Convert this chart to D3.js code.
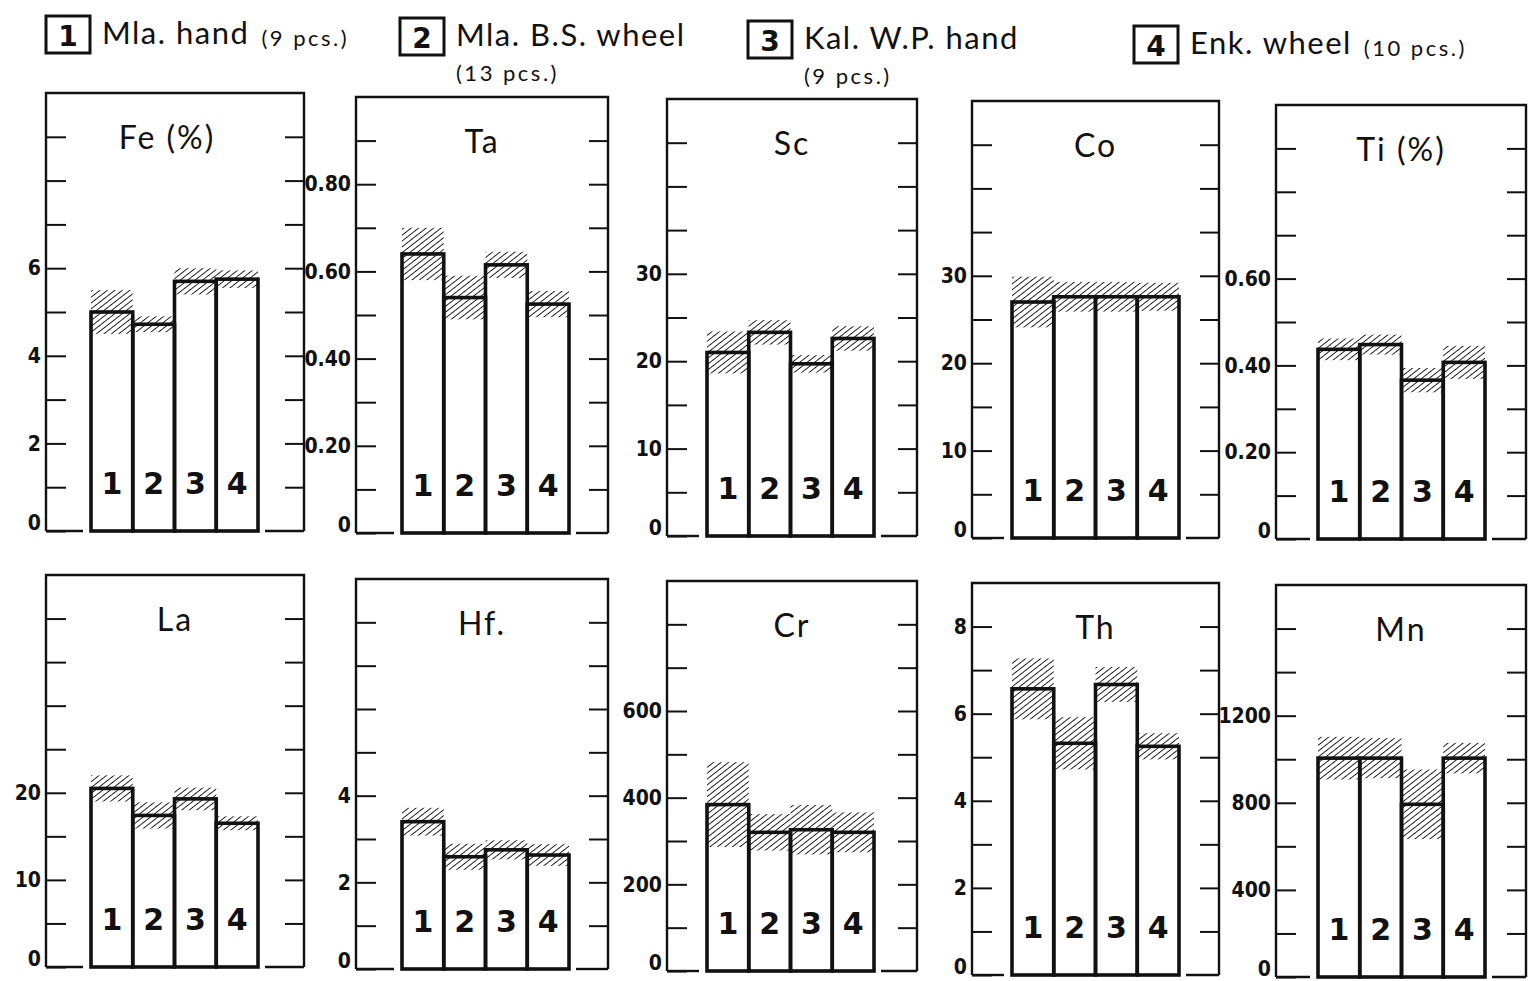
<!DOCTYPE html>
<html>
<head>
<meta charset="utf-8">
<script src="https://cdn.jsdelivr.net/npm/d3@7"></script>
<style>
body { margin: 0; background: #fff; }
svg { display: block; }
.tick text { font-family: "DejaVu Sans Condensed", "Liberation Sans Narrow", sans-serif; font-weight: bold; font-size: 21px; fill: #111; }
.tick line { stroke: #111; stroke-width: 2; }
</style>
</head>
<body>
<svg id="drawing_region"></svg>
<script>
// groups and legend
const groups = [1, 2, 3, 4];
const groupNames = ["Mla. hand", "Mla. B.S. wheel", "Kal. W.P. hand", "Enk. wheel"];
const groupCounts = ["(9 pcs.)", "(13 pcs.)", "(9 pcs.)", "(10 pcs.)"];

// panels
const elements = ["Fe (%)", "Ta", "Sc", "Co", "Ti (%)", "La", "Hf.", "Cr", "Th", "Mn"];

// mean values (bar tops) and spread (hatched band) per element, groups 1-4
const fe = [5.0, 4.72, 5.7, 5.75];      const feSd = [0.5, 0.18, 0.3, 0.2];
const ta = [0.64, 0.54, 0.615, 0.525];  const taSd = [0.06, 0.05, 0.03, 0.03];
const sc = [21.0, 23.3, 19.7, 22.6];    const scSd = [2.4, 1.4, 1.0, 1.4];
const co = [27.0, 27.6, 27.6, 27.6];    const coSd = [2.9, 1.7, 1.7, 1.6];
const ti = [0.437, 0.448, 0.366, 0.407]; const tiSd = [0.025, 0.023, 0.028, 0.038];
const la = [20.5, 17.4, 19.3, 16.5];    const laSd = [1.5, 1.5, 1.3, 0.8];
const hf = [3.4, 2.59, 2.75, 2.63];     const hfSd = [0.32, 0.3, 0.22, 0.25];
const cr = [384, 320, 326, 320];        const crSd = [98, 42, 57, 46];
const th = [6.57, 5.32, 6.67, 5.25];    const thSd = [0.7, 0.6, 0.4, 0.3];
const mn = [1005, 1005, 793, 1005];     const mnSd = [98, 92, 160, 70];

// axes
const axisMax = [10, 1.0, 50, 50, 1.0, 45, 9, 900, 9, 1800];
const tickStep = [1, 0.1, 5, 5, 0.1, 5, 1, 100, 1, 200];
const tickLabels = [
    [0, 2, 4, 6], [0, 0.2, 0.4, 0.6, 0.8], [0, 10, 20, 30], [0, 10, 20, 30], [0, 0.2, 0.4, 0.6],
    [0, 10, 20], [0, 2, 4], [0, 200, 400, 600], [0, 2, 4, 6, 8], [0, 400, 800, 1200]
];
const labelDecimals = [0, 2, 0, 0, 2, 0, 0, 0, 0, 0];

const means = [fe, ta, sc, co, ti, la, hf, cr, th, mn];
const spreads = [feSd, taSd, scSd, coSd, tiSd, laSd, hfSd, crSd, thSd, mnSd];

// layout (the scan is slightly tilted, so rows drift down to the right)
const colLeft = [46, 356, 667, 972, 1276];
const colWidth = [258, 252, 250, 247, 250];
const barOffset = [45, 46, 40, 40, 42];
const barGroupWidth = 167;
const rowTop = [[93, 97, 99, 101, 105], [575, 579, 581, 583, 585]];
const rowBottom = [[531, 533, 536, 538, 539], [967, 969, 971, 975, 977]];
const titleShift = [-8, 0, 0, 0, 0, 0, 0, 0, 0, 0];

const ink = "#111";
const boldFont = "'DejaVu Sans', sans-serif";
const textFont = "Lato, sans-serif";

const svg = d3.select("#drawing_region")
    .attr("width", 1531)
    .attr("height", 981);

svg.append("rect").attr("width", 1531).attr("height", 981).attr("fill", "#fff");

const defs = svg.append("defs");
defs.append("pattern")
    .attr("id", "hatch")
    .attr("patternUnits", "userSpaceOnUse")
    .attr("width", 4.6)
    .attr("height", 4.6)
    .attr("patternTransform", "rotate(52)")
    .append("line")
    .attr("x1", 0).attr("y1", 0).attr("x2", 0).attr("y2", 4.6)
    .attr("stroke", "#000")
    .attr("stroke-width", 1.7);

// legend
const legendX = [46, 400, 748, 1134];
const legendY = [16, 18, 21, 26];
const countInline = [true, false, false, true];

groups.forEach((g, i) => {
    const lg = svg.append("g").attr("transform", `translate(${legendX[i]},${legendY[i]})`);
    lg.append("rect")
        .attr("x", 0).attr("y", 0).attr("width", 44).attr("height", 37)
        .attr("fill", "none").attr("stroke", ink).attr("stroke-width", 3);
    lg.append("text")
        .attr("x", 22).attr("y", 30)
        .attr("text-anchor", "middle")
        .attr("font-family", boldFont).attr("font-weight", "bold").attr("font-size", 28)
        .attr("fill", ink)
        .text(g);
    const name = lg.append("text")
        .attr("x", 56).attr("y", 28)
        .attr("font-family", textFont).attr("font-size", 31)
        .attr("letter-spacing", 1.5)
        .attr("fill", ink)
        .text(groupNames[i]);
    const nameLen = name.node().getComputedTextLength();
    lg.append("text")
        .attr("x", countInline[i] ? 56 + nameLen + 12 : 56)
        .attr("y", countInline[i] ? 30 : 63)
        .attr("font-family", textFont).attr("font-size", 22)
        .attr("letter-spacing", 2.5)
        .attr("fill", ink)
        .text(groupCounts[i]);
});

// panels
elements.forEach((el, k) => {
    const row = Math.floor(k / 5);
    const col = k % 5;
    const x0 = colLeft[col];
    const x1 = x0 + colWidth[col];
    const top = rowTop[row][col];
    const bottom = rowBottom[row][col];

    const yscale = d3.scaleLinear().domain([0, axisMax[k]]).range([bottom, top]);
    const bx0 = x0 + barOffset[col];
    const xscale = d3.scaleBand().domain(groups).range([bx0, bx0 + barGroupWidth]).padding(0);

    const nTicks = Math.round(axisMax[k] / tickStep[k]);
    const tickValues = d3.range(0, nTicks).map(i => +(i * tickStep[k]).toFixed(4));
    const isLabel = v => tickLabels[k].some(t => Math.abs(t - v) < 1e-6);
    const fmt = v => !isLabel(v) ? "" : (v === 0 ? "0" : d3.format(`.${labelDecimals[k]}f`)(v));

    const panel = svg.append("g");

    // hatched spread bands
    panel.selectAll("rect.band")
        .data(groups)
        .join("rect")
        .attr("class", "band")
        .attr("x", g => xscale(g))
        .attr("y", (g, i) => yscale(means[k][i] + spreads[k][i]))
        .attr("width", xscale.bandwidth())
        .attr("height", (g, i) => yscale(means[k][i] - spreads[k][i]) - yscale(means[k][i] + spreads[k][i]))
        .attr("fill", "url(#hatch)");

    // left axis (ticks inward, labels outside)
    const left = panel.append("g")
        .attr("transform", `translate(${x0},0)`)
        .call(d3.axisLeft(yscale).tickValues(tickValues).tickSize(-20).tickPadding(5).tickFormat(fmt));
    left.select(".domain").remove();
    left.selectAll(".tick").filter(d => d === 0).select("text").attr("y", -8);

    // right axis, ticks only
    const right = panel.append("g")
        .attr("transform", `translate(${x1},0)`)
        .call(d3.axisRight(yscale).tickValues(tickValues.filter(v => v > 0)).tickSize(-19).tickFormat(""));
    right.select(".domain").remove();

    // frame
    panel.append("path")
        .attr("d", `M${x0},${bottom}V${top}H${x1}V${bottom}`)
        .attr("fill", "none").attr("stroke", ink).attr("stroke-width", 2.4);
    panel.append("line")
        .attr("x1", x0).attr("x2", bx0 - 8).attr("y1", bottom).attr("y2", bottom)
        .attr("stroke", ink).attr("stroke-width", 2.4);
    panel.append("line")
        .attr("x1", bx0 + barGroupWidth + 7).attr("x2", x1).attr("y1", bottom).attr("y2", bottom)
        .attr("stroke", ink).attr("stroke-width", 2.4);

    // bars
    panel.selectAll("rect.bar")
        .data(groups)
        .join("rect")
        .attr("class", "bar")
        .attr("x", g => xscale(g))
        .attr("y", (g, i) => yscale(means[k][i]))
        .attr("width", xscale.bandwidth())
        .attr("height", (g, i) => yscale(0) - yscale(means[k][i]))
        .attr("fill", "none")
        .attr("stroke", ink)
        .attr("stroke-width", 3.6);

    panel.selectAll("text.num")
        .data(groups)
        .join("text")
        .attr("class", "num")
        .attr("x", g => xscale(g) + xscale.bandwidth() / 2)
        .attr("y", bottom - 37)
        .attr("text-anchor", "middle")
        .attr("font-family", boldFont).attr("font-weight", "bold").attr("font-size", 30)
        .attr("fill", ink)
        .text(g => g);

    // title
    panel.append("text")
        .attr("x", (x0 + x1) / 2 + titleShift[k])
        .attr("y", top + 56)
        .attr("text-anchor", "middle")
        .attr("font-family", textFont).attr("font-size", 32)
        .attr("letter-spacing", 2)
        .attr("fill", ink)
        .text(el);
});
</script>
</body>
</html>
